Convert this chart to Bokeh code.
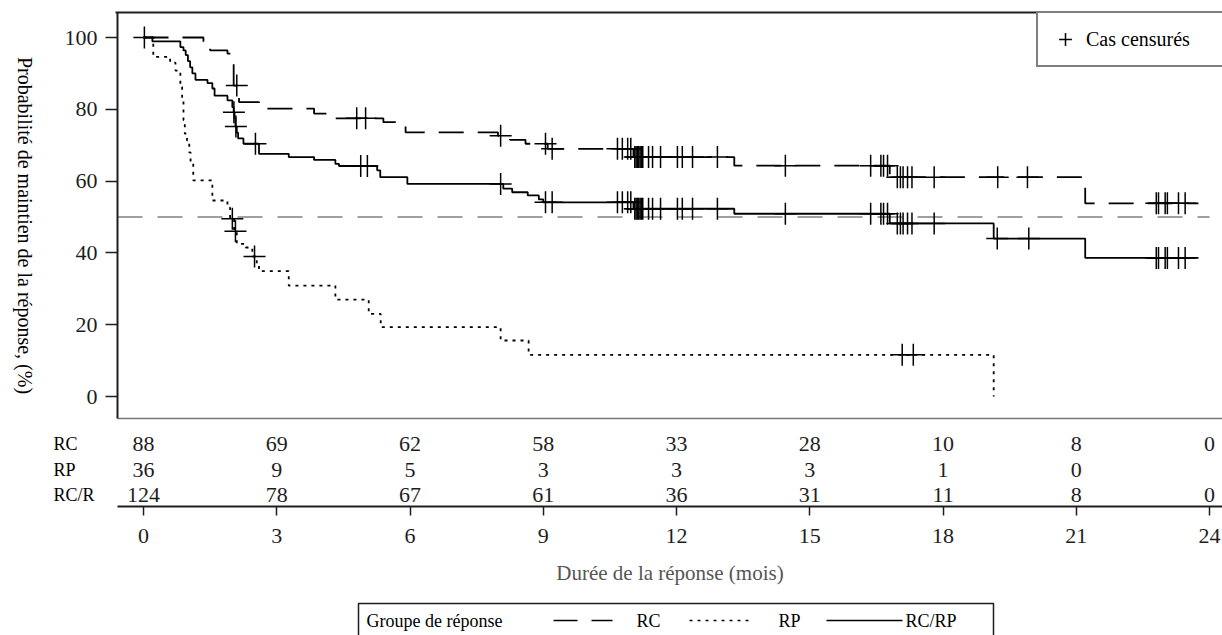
import numpy as np
from bokeh.plotting import figure
from bokeh.models import Range1d, FixedTicker, Legend, LegendItem
from bokeh.core.properties import value
from bokeh.embed import file_html
from bokeh.resources import INLINE

# ---------------- data ----------------
# RC (complete response) - dashed
rc_t = [0, 1.35, 1.5, 1.89, 2.03, 2.15, 2.6, 3.84, 4.2, 5.4, 5.9, 7.98, 8.25, 8.6, 9.1, 11.03, 13.3, 16.8, 21.2, 23.75]
rc_s = [100, 98.9, 96.4, 95.5, 86.6, 82.0, 80.2, 78.8, 77.5, 76.4, 73.6, 72.6, 71.5, 70.4, 69.0, 66.7, 64.3, 61.1, 53.8, 53.8]
rc_cens = [2.1, 4.8, 5.0, 8.04, 9.05, 9.2, 10.67, 10.78, 10.9, 10.97, 11.06, 11.09, 11.12, 11.15, 11.18,
           11.21, 11.24, 11.37, 11.46, 11.64, 12.02, 12.13, 12.36, 12.92, 14.45, 16.37, 16.6, 16.66,
           16.75, 16.97, 17.04, 17.1, 17.2, 17.3, 17.8, 19.23, 19.9, 22.8, 22.85, 23.0, 23.05, 23.3, 23.45]

# RP (partial response) - dotted
rp_t = [0, 0.22, 0.6, 0.72, 0.83, 0.87, 0.9, 0.93, 0.98, 1.03, 1.06, 1.12, 1.55, 1.89, 1.95, 2.04,
        2.1, 2.3, 2.45, 2.55, 2.6, 3.27, 4.32, 5.07, 5.34, 8.04, 8.67, 19.14]
rp_s = [100, 94.6, 93.0, 90.8, 86.2, 82.5, 77.0, 73.2, 71.3, 68.0, 65.0, 60.2, 54.6, 52.6, 49.5, 46.0,
        42.5, 41.5, 39.0, 36.9, 34.9, 30.9, 27.0, 23.0, 19.3, 15.6, 11.6, 0]
rp_cens = [2.0, 2.07, 2.5, 17.08, 17.33]

# RC/RP (all responders) - solid
rcrp_t = [0, 0.2, 0.83, 0.9, 0.95, 1.0, 1.05, 1.1, 1.17, 1.44, 1.55, 1.6, 1.89, 2.0, 2.03, 2.05,
          2.07, 2.1, 2.13, 2.25, 2.6, 3.27, 3.84, 4.32, 4.4, 5.26, 5.33, 5.94, 8.1, 8.3, 8.65, 8.9,
          9.0, 11.03, 13.3, 16.8, 19.14, 21.2, 23.75]
rcrp_s = [100, 98.9, 97.3, 96.4, 95.1, 93.4, 91.7, 90.0, 88.2, 87.3, 85.8, 83.8, 82.5, 80.6, 79.2,
          77.5, 75.2, 73.5, 71.9, 70.4, 67.6, 66.7, 65.9, 64.8, 64.2, 63.0, 61.1, 59.2, 57.9, 56.9,
          56.0, 54.9, 54.1, 52.3, 50.9, 48.2, 44.0, 38.6, 38.6]
rcrp_cens = [0.02, 2.035, 2.08, 2.52, 4.89, 5.04, 8.04, 9.05, 9.2, 10.67, 10.78, 10.9, 10.97, 11.06,
             11.09, 11.12, 11.15, 11.18, 11.21, 11.24, 11.37, 11.46, 11.64, 12.02, 12.13, 12.36,
             12.92, 14.45, 16.37, 16.6, 16.66, 16.75, 16.97, 17.04, 17.1, 17.2, 17.3, 17.8, 19.22,
             19.93, 22.8, 22.85, 23.0, 23.05, 23.3, 23.45]

# numbers at risk
months = [0, 3, 6, 9, 12, 15, 18, 21, 24]
risk_rc = [88, 69, 62, 58, 33, 28, 10, 8, 0]
risk_rp = [36, 9, 5, 3, 3, 3, 1, 0, None]
risk_rcrp = [124, 78, 67, 61, 36, 31, 11, 8, 0]
row_names = ["RC", "RP", "RC/R"]
y_ticks = [0, 20, 40, 60, 80, 100]
legend_names = ["RC", "RP", "RC/RP"]
ref_level = 50

# ---------------- layout helpers (canvas pixels -> data units) ----------------
W, H = 1222, 635
X0PX, XPX = 143.0, 44.42      # pixel of t=0, pixels per month
Y0PX, YPX = 396.0, 3.59       # pixel of 0 %, pixels per percent


def px2t(px):
    return (px - X0PX) / XPX


def py2s(py):
    return (Y0PX - py) / YPX


SERIF = "Liberation Serif"
INK = "#1e1e1e"
row_levels = [py2s(443), py2s(469), py2s(494)]


def surv_at(ts, ss, tc):
    idx = np.searchsorted(np.asarray(ts), np.asarray(tc), side="right") - 1
    return list(np.asarray(ss)[idx])


p = figure(width=W, height=H,
           x_range=Range1d(px2t(0), px2t(W)), y_range=Range1d(py2s(H), py2s(0)),
           output_backend="svg", toolbar_location=None,
           min_border_left=0, min_border_right=0, min_border_top=0, min_border_bottom=0)
p.outline_line_color = None
p.grid.visible = False
p.background_fill_color = "white"
p.border_fill_color = "white"

ya = p.yaxis[0]
ya.fixed_location = px2t(117)
ya.ticker = FixedTicker(ticks=y_ticks)
ya.bounds = (py2s(418), py2s(12))
ya.axis_line_width = 2
ya.axis_line_color = INK
ya.major_tick_out = 12
ya.major_tick_in = 0
ya.major_tick_line_width = 1.5
ya.major_tick_line_color = INK
ya.minor_tick_line_color = None
ya.major_label_text_font = SERIF
ya.major_label_text_font_size = "22px"
ya.major_label_text_color = INK
ya.major_label_standoff = 8

xa = p.xaxis[0]
xa.fixed_location = py2s(506)
xa.bounds = (px2t(117), px2t(W))
xa.ticker = FixedTicker(ticks=months)
xa.axis_line_width = 2
xa.axis_line_color = INK
xa.major_tick_out = 9
xa.major_tick_in = 0
xa.major_tick_line_width = 1.5
xa.major_tick_line_color = INK
xa.minor_tick_line_color = None
xa.major_label_text_font = SERIF
xa.major_label_text_font_size = "22px"
xa.major_label_text_color = INK
xa.major_label_standoff = 13
xa.axis_label = "Durée de la réponse (mois)"
xa.axis_label_text_font = SERIF
xa.axis_label_text_font_style = "normal"
xa.axis_label_text_font_size = "21px"
xa.axis_label_text_color = "#555555"
xa.axis_label_standoff = 15

# frame lines and the 50 % reference line
p.line([px2t(115), px2t(W)], [py2s(12), py2s(12)], line_color=INK, line_width=2)
p.line([px2t(117), px2t(W)], [py2s(418), py2s(418)], line_color="#777777", line_width=1.5)
p.line([px2t(117), months[-1]], [ref_level, ref_level], line_color="#a0a0a0", line_width=2,
       line_dash="25 15")

# curves
p.step(rc_t, rc_s, mode="after", line_color="black", line_width=1.8, line_dash="25 14")
p.step(rp_t, rp_s, mode="after", line_color="black", line_width=1.8, line_dash="3 5")
p.step(rcrp_t, rcrp_s, mode="after", line_color="black", line_width=1.8)

# censored cases
cross_kw = dict(marker="cross", size=22, line_color="black", line_width=1.5)
p.scatter(rc_cens, surv_at(rc_t, rc_s, rc_cens), **cross_kw)
p.scatter(rp_cens, surv_at(rp_t, rp_s, rp_cens), **cross_kw)
cr = p.scatter(rcrp_cens, surv_at(rcrp_t, rcrp_s, rcrp_cens), **cross_kw)

leg = Legend(items=[LegendItem(label="Cas censurés", renderers=[cr])],
             location=(1036, H - 67), padding=10, margin=0, spacing=0,
             glyph_width=34, glyph_height=32, label_standoff=4, label_width=200,
             label_text_font=SERIF, label_text_font_size="20px", label_text_color="black",
             border_line_color="black", border_line_width=2,
             background_fill_color="white", background_fill_alpha=1.0)
p.add_layout(leg)

# at-risk table
for vals, yl in zip([risk_rc, risk_rp, risk_rcrp], row_levels):
    xs = [m for m, v in zip(months, vals) if v is not None]
    ts = [str(v) for v in vals if v is not None]
    p.text(x=xs, y=[yl] * len(xs), text=ts, text_align="center", text_baseline="middle",
           text_font=value(SERIF), text_font_size="22px", text_color=INK)

p.text(x=[px2t(53)] * 3, y=row_levels, text=row_names, text_align="left", text_baseline="middle",
       text_font=value(SERIF), text_font_size="18px", text_color="black")

# y axis title (reads top to bottom)
p.text(x=[px2t(24)], y=[py2s(225)], text=["Probabilité de maintien de la réponse, (%)"],
       angle=-np.pi / 2, text_align="center", text_baseline="middle",
       text_font=value(SERIF), text_font_size="20px", text_color="black")

# ---------------- bottom legend box ----------------
bx0, bx1, by0 = px2t(358), px2t(993), py2s(603)
p.line([bx0, bx0, bx1, bx1], [py2s(H + 5), by0, by0, py2s(H + 5)], line_color=INK, line_width=1.5)
ly = py2s(620)
p.text(x=[px2t(366)], y=[ly], text=["Groupe de réponse"], text_baseline="middle",
       text_font=value(SERIF), text_font_size="18px", text_color="black")
p.line([px2t(553), px2t(612)], [ly, ly], line_color="black", line_width=1.5, line_dash="24 14")
p.line([px2t(689), px2t(751)], [ly, ly], line_color="black", line_width=1.5, line_dash="3 5")
p.line([px2t(826), px2t(902)], [ly, ly], line_color="black", line_width=1.5)
p.text(x=[px2t(636), px2t(778), px2t(905)], y=[ly] * 3, text=legend_names, text_baseline="middle",
       text_font=value(SERIF), text_font_size="18px", text_color="black")

open("out.html", "w").write(file_html(p, INLINE))
